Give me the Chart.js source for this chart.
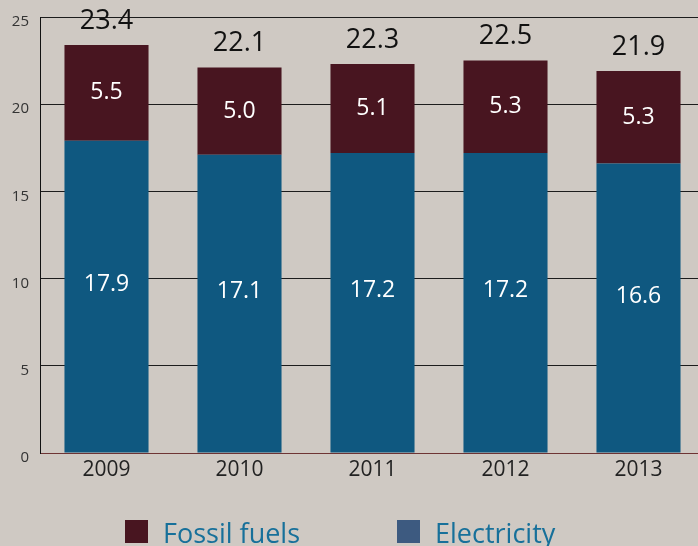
<!DOCTYPE html>
<html>
<head>
<meta charset="utf-8">
<script src="https://cdn.jsdelivr.net/npm/chart.js@4"></script>
<style>
  html, body { margin: 0; padding: 0; background: #cfc9c3; overflow: hidden; }
  #wrap { position: absolute; left: 0; top: 0; width: 705px; height: 546px; }
</style>
</head>
<body>
<div id="wrap"><canvas id="energyChart" width="705" height="546"></canvas></div>
<script>
const years = ['2009', '2010', '2011', '2012', '2013'];
const electricity = [17.9, 17.1, 17.2, 17.2, 16.6];
const fossilFuels = [5.5, 5.0, 5.1, 5.3, 5.3];
const totals = ['23.4', '22.1', '22.3', '22.5', '21.9'];
const yTicks = [0, 5, 10, 15, 20, 25];

const FONT = '"Open Sans", "Noto Sans", sans-serif';

// 막대 안 값 + 합계 라벨
const valueLabels = {
    id: 'valueLabels',
    afterDatasetsDraw(chart) {
        const ctx = chart.ctx;
        ctx.save();
        ctx.textAlign = 'center';
        ctx.textBaseline = 'middle';
        chart.data.datasets.forEach((ds, di) => {
            const meta = chart.getDatasetMeta(di);
            meta.data.forEach((bar, i) => {
                const shift = di === 0 ? -12 : 0;
                ctx.fillStyle = '#ffffff';
                ctx.font = '23px ' + FONT;
                ctx.fillText(ds.data[i].toFixed(1), bar.x, (bar.y + bar.base) / 2 + shift);
                if (di === 1) {
                    ctx.fillStyle = '#111111';
                    ctx.font = '27px ' + FONT;
                    ctx.fillText(totals[i], bar.x, bar.y - 24);
                }
            });
        });
        ctx.restore();
    }
};

// 아래쪽 범례
const bottomLegend = {
    id: 'bottomLegend',
    afterDraw(chart) {
        const ctx = chart.ctx;
        const items = [
            { label: chart.data.datasets[1].label, color: '#481520', x: 125, tx: 163 },
            { label: chart.data.datasets[0].label, color: '#3d5a80', x: 397, tx: 435 }
        ];
        ctx.save();
        ctx.font = '27px ' + FONT;
        ctx.textAlign = 'left';
        ctx.textBaseline = 'alphabetic';
        items.forEach(it => {
            ctx.fillStyle = it.color;
            ctx.fillRect(it.x, 520, 23, 23);
            ctx.fillStyle = '#17709a';
            ctx.fillText(it.label, it.tx, 543);
        });
        ctx.restore();
    }
};

new Chart(document.getElementById('energyChart'), {
    type: 'bar',
    data: {
        labels: years,
        datasets: [
            {
                label: 'Electricity',
                data: electricity,
                backgroundColor: '#0f5880',
                borderWidth: 0,
                barPercentage: 0.632,
                categoryPercentage: 1
            },
            {
                label: 'Fossil fuels',
                data: fossilFuels,
                backgroundColor: '#481520',
                borderWidth: 0,
                barPercentage: 0.632,
                categoryPercentage: 1
            }
        ]
    },
    options: {
        responsive: false,
        devicePixelRatio: 1,
        animation: false,
        layout: { padding: { top: 17, bottom: 46, left: 0, right: 0 } },
        plugins: {
            legend: { display: false },
            tooltip: { enabled: false }
        },
        scales: {
            x: {
                stacked: true,
                grid: { display: false, drawTicks: false },
                border: { display: true, color: '#6e3434', width: 1 },
                ticks: {
                    color: '#222222',
                    font: { family: FONT, size: 21 },
                    padding: 4
                },
                afterFit: scale => {
                    scale.height = 47;
                    scale.paddingLeft = 0;
                    scale.paddingRight = 0;
                }
            },
            y: {
                stacked: true,
                min: 0,
                max: 25,
                afterBuildTicks: scale => { scale.ticks = yTicks.map(v => ({ value: v })); },
                grid: {
                    color: '#1c1c1c',
                    lineWidth: 1,
                    drawTicks: false
                },
                border: { display: true, color: '#111111', width: 1 },
                ticks: {
                    color: '#333333',
                    font: { family: FONT, size: 15 },
                    padding: 11,
                    labelOffset: 5
                },
                afterFit: scale => {
                    scale.width = 40;
                    scale.paddingTop = 0;
                    scale.paddingBottom = 0;
                }
            }
        }
    },
    plugins: [valueLabels, bottomLegend]
});
</script>
</body>
</html>
